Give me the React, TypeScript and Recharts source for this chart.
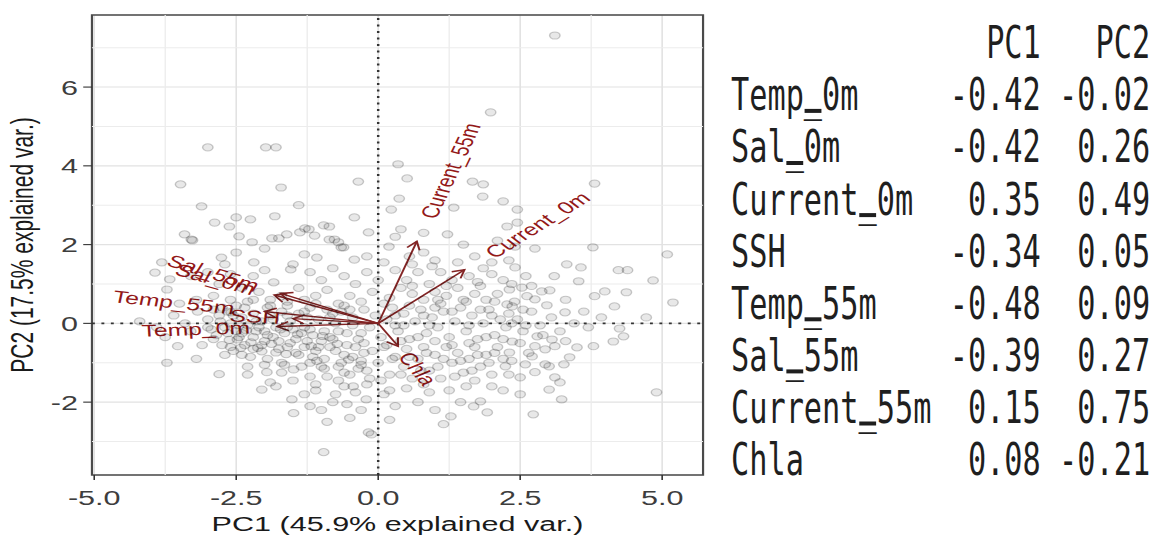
import React from 'react';
import { ScatterChart, Scatter, XAxis, YAxis, CartesianGrid, ReferenceLine, ReferenceArea } from 'recharts';

// axis setup
const pc1Ticks = [-5, -2.5, 0, 2.5, 5];
const pc2Ticks = [-2, 0, 2, 4, 6];
const pc1MinorBreaks = [-3.75, -1.25, 1.25, 3.75];
const pc2MinorBreaks = [-3, -1, 1, 3, 5, 7];
const pc1Domain: [number, number] = [-5.04, 5.72];
const pc2Domain: [number, number] = [-3.85, 7.83];

// loadings table
const variableNames = ['Temp_0m', 'Sal_0m', 'Current_0m', 'SSH', 'Temp_55m', 'Sal_55m', 'Current_55m', 'Chla'];
const loadingPC1 = [-0.42, -0.42, 0.35, -0.34, -0.48, -0.39, 0.15, 0.08];
const loadingPC2 = [-0.02, 0.26, 0.49, 0.05, 0.09, 0.27, 0.75, -0.21];

// arrow tips as drawn in the biplot (score units)
const arrowTipX = [-1.78, -1.83, 1.52, -1.5, -2.0, -1.72, 0.68, 0.35];
const arrowTipY = [-0.08, 0.72, 1.36, 0.12, 0.3, 0.76, 2.08, -0.58];

// PCA scores
const scores: [number, number][] = [
  [3.11, 7.31], [1.98, 5.36], [-3.0, 4.47], [-1.98, 4.47], [-1.8, 4.47], [0.35, 4.04], [-3.48, 3.53], [-1.71, 3.45],
  [-0.35, 3.6], [0.51, 3.68], [1.66, 3.6], [1.85, 3.53], [1.84, 3.22], [3.81, 3.55], [-3.11, 2.97], [-1.4, 3.0],
  [0.37, 3.17], [2.2, 3.1], [-2.88, 2.56], [-2.62, 2.46], [-2.5, 2.69], [-2.25, 2.64], [-1.82, 2.72], [-0.42, 2.69],
  [0.23, 2.89], [1.33, 2.94], [2.45, 2.89], [-0.86, 2.46], [2.27, 2.46], [2.45, 2.56], [0.4, 2.39], [-1.22, 2.39],
  [-0.96, 2.49], [-3.41, 2.26], [-3.27, 2.11], [-2.45, 2.21], [-2.22, 2.06], [-1.87, 2.16], [-1.75, 2.16], [-1.61, 2.26],
  [-1.38, 2.31], [-1.29, 2.41], [-1.12, 2.23], [-0.86, 2.13], [-0.7, 2.06], [-0.65, 1.93], [-0.17, 2.31], [0.19, 1.95],
  [1.22, 2.26], [2.41, 1.95], [3.78, 1.93], [5.09, 1.75], [3.32, 1.5], [-0.77, 2.13], [-0.61, 1.93], [-0.42, 1.62],
  [-1.08, 1.67], [-3.29, 2.13], [-2.76, 1.67], [-2.19, 1.55], [-3.81, 1.55], [2.76, 1.9], [3.57, 1.42], [4.23, 1.35],
  [4.39, 1.35], [2.41, 1.42], [0.8, 1.8], [1.0, 1.6], [0.55, 1.7], [1.7, 1.7], [2.0, 1.55], [-2.5, 1.8],
  [-2.0, 1.9], [-1.3, 1.75], [-0.2, 1.7], [0.1, 1.55], [1.4, 1.55], [0.3, 2.2], [0.8, 2.3], [1.5, 2.0], [2.1, 2.1],
  [4.84, 1.09], [3.53, 1.07], [3.99, 0.81], [3.81, 0.69], [4.37, 0.79], [3.02, 0.84], [2.88, 0.81], [2.62, 0.69],
  [2.76, 0.61], [2.53, 0.91], [2.31, 0.86], [-3.93, 1.29], [-3.67, 1.12], [-3.72, 0.86], [-1.54, 1.37], [-1.84, 1.04],
  [-1.71, 0.69], [-3.3, 1.2], [-3.0, 1.3], [-2.8, 1.0], [-2.6, 1.25], [-2.4, 0.9], [-2.2, 1.2], [-2.0, 1.35],
  [-1.2, 1.3], [-1.0, 1.1], [-0.8, 1.4], [-0.6, 1.2], [-0.4, 1.0], [-0.2, 1.3], [0.0, 1.1], [0.3, 1.35],
  [0.5, 1.1], [0.7, 1.3], [0.9, 1.0], [1.1, 1.3], [1.3, 1.1], [1.6, 1.2], [1.8, 0.95], [2.0, 1.25],
  [2.2, 1.1], [-1.4, 0.9], [-1.1, 0.7], [-0.9, 0.85], [-0.5, 0.7], [-0.1, 0.8], [0.2, 0.65], [0.4, 0.9],
  [0.6, 0.75], [0.8, 0.6], [1.0, 0.8], [1.2, 0.7], [1.4, 0.9], [1.5, 0.6], [1.7, 0.75], [1.9, 0.6],
  [2.1, 0.75], [-2.9, 0.7], [-2.6, 0.6], [-2.3, 0.55], [-2.1, 0.8], [-1.9, 0.6], [-1.6, 0.55], [-1.3, 0.6],
  [-3.2, 0.6], [-3.5, 0.5], [-0.7, 0.5], [-0.3, 0.55], [0.1, 0.5], [1.1, 0.5], [2.4, 0.55], [3.3, 0.6],
  [-1.5, 1.5], [-2.7, 1.5], [0.6, 1.5], [2.6, 1.2], [3.1, 1.2],
  [-2.59, 0.28], [-3.18, 0.3], [-2.94, -0.15], [-2.48, -0.41], [-2.24, -0.48], [3.93, 0.15], [4.72, 0.15], [4.25, -0.13],
  [4.16, 0.43], [5.19, 0.53], [3.62, 0.3], [3.29, 0.28], [2.97, 0.46], [2.36, 0.43], [2.27, 0.48], [-3.53, -0.58],
  [-3.0, 0.1], [-2.8, 0.2], [-2.7, -0.1], [-2.6, 0.0], [-2.5, -0.2], [-2.4, 0.15], [-2.3, -0.05], [-2.2, 0.25],
  [-2.15, -0.2], [-2.05, 0.05], [-1.95, -0.3], [-1.9, 0.2], [-1.8, -0.1], [-1.7, 0.3], [-1.65, -0.25], [-1.55, 0.05],
  [-1.45, -0.4], [-1.4, 0.25], [-1.3, -0.1], [-1.2, 0.4], [-1.15, -0.3], [-1.05, 0.1], [-0.95, -0.2], [-0.9, 0.35],
  [-0.8, -0.4], [-0.75, 0.0], [-0.65, 0.3], [-0.55, -0.25], [-0.45, 0.15], [-0.35, -0.4], [-0.25, 0.35], [-0.15, -0.1],
  [-0.05, 0.2], [0.05, -0.35], [0.15, 0.1], [0.25, 0.4], [0.35, -0.2], [0.45, 0.25], [0.55, -0.4], [0.65, 0.05],
  [0.75, 0.35], [0.85, -0.25], [0.95, 0.15], [1.05, -0.1], [1.15, 0.3], [1.25, -0.35], [1.35, 0.05], [1.45, 0.4],
  [1.55, -0.2], [1.65, 0.2], [1.75, -0.4], [1.85, 0.0], [1.95, 0.35], [2.05, -0.3], [2.15, 0.1], [2.25, -0.1],
  [2.45, 0.1], [2.55, -0.2], [2.7, 0.3], [2.85, -0.05], [3.05, 0.15], [3.2, -0.2], [3.45, 0.0], [3.7, -0.1],
  [-3.3, -0.2], [-3.6, 0.2], [-3.9, -0.1], [-2.9, -0.4], [-2.75, 0.4], [-2.35, 0.4], [-2.0, -0.45], [-1.75, -0.45],
  [-1.6, 0.45], [-1.0, -0.45], [-0.6, 0.45], [-2.45, -0.35], [-2.2, -0.35], [-1.85, 0.1], [-1.5, -0.15], [-1.25, 0.15],
  [-0.85, 0.15], [-2.65, 0.3], [-2.1, -0.1], [-1.35, -0.25], [-0.45, -0.05], [0.3, -0.05], [1.0, 0.4], [2.0, 0.2],
  [-4.2, 0.05], [-3.75, -0.35],
  [-2.05, -0.71], [-1.8, -0.74], [-1.96, -1.24], [-1.49, -1.17], [-2.8, -1.29], [-3.72, -1.0], [4.32, -0.33], [4.14, -0.46],
  [3.79, -0.58], [3.5, -0.61], [3.37, -0.86], [3.27, -1.04], [3.06, -0.41], [3.11, -0.58], [2.94, -0.66], [2.8, -0.33],
  [2.76, -0.58], [2.71, -0.84], [2.94, -1.04], [3.01, -1.09], [2.59, -1.04], [2.76, -1.24], [3.11, -1.37], [3.2, -1.5],
  [2.36, -0.46], [2.31, -0.74], [2.24, -1.09], [2.5, -1.37], [-2.6, -0.6], [-2.4, -0.8], [-2.2, -0.65], [-1.6, -0.6],
  [-1.4, -0.8], [-1.3, -0.6], [-1.2, -1.0], [-1.1, -0.7], [-0.95, -0.9], [-0.85, -0.6], [-0.7, -1.1], [-0.6, -0.8],
  [-0.5, -1.3], [-0.4, -0.6], [-0.3, -0.95], [-0.2, -1.2], [-0.1, -0.7], [0.0, -1.0], [0.1, -0.6], [0.2, -1.3],
  [0.3, -0.85], [0.45, -1.1], [0.5, -0.65], [0.6, -1.4], [0.7, -0.9], [0.8, -0.6], [0.9, -1.2], [1.0, -0.8],
  [1.1, -1.4], [1.2, -0.6], [1.3, -1.0], [1.4, -0.75], [1.5, -1.25], [1.6, -0.9], [1.7, -0.6], [1.8, -1.1],
  [1.9, -0.8], [2.0, -1.3], [2.1, -0.6], [2.2, -0.9], [-0.9, -1.35], [-1.7, -1.0], [-2.3, -1.1], [-1.0, -1.1],
  [0.05, -1.45], [1.7, -1.45], [-0.25, -0.5],
  [-1.52, -1.93], [-1.49, -2.28], [-2.05, -1.68], [-0.96, -3.27], [-0.44, -1.6], [-0.21, -1.93], [-0.17, -2.77], [2.73, -2.31],
  [4.9, -1.75], [1.15, -2.56], [1.28, -2.36], [1.68, -2.11], [1.8, -1.98], [1.92, -2.26], [1.45, -2.0], [-0.12, -2.82],
  [3.01, -1.68], [3.23, -1.93], [-1.1, -1.7], [-0.8, -2.0], [-0.6, -1.6], [-0.3, -2.2], [0.1, -1.8], [0.3, -2.1],
  [0.5, -1.65], [0.7, -2.0], [0.9, -1.75], [1.0, -2.2], [-1.2, -2.1], [-0.5, -2.4], [0.2, -2.45], [2.2, -1.7],
  [2.5, -1.8], [-1.8, -1.6], [-0.9, -2.5],
  // denser band left of the origin
  [-2.85, -0.3], [-2.75, -0.55], [-2.65, -0.25], [-2.55, -0.7], [-2.45, -0.05], [-2.35, -0.55], [-2.25, -0.85], [-2.15, 0.05],
  [-2.05, -0.55], [-1.95, -0.9], [-1.85, -0.35], [-1.75, -0.65], [-1.65, -1.05], [-1.55, -0.5], [-1.45, -0.75], [-1.35, -1.1],
  [-1.25, -0.45], [-1.15, -0.85], [-1.05, -0.6], [-0.95, -1.15], [-0.85, -0.35], [-0.75, -0.7], [-0.65, -1.0], [-0.55, -0.55],
  [-0.45, -0.85], [-0.35, -1.15], [-0.25, -0.75], [-0.15, -1.4], [-2.9, 0.35], [-2.5, 0.45], [-2.2, 0.6], [-1.9, 0.45],
  [-1.6, 0.2], [-1.3, 0.3], [-1.1, 0.5], [-0.8, 0.25], [-0.5, 0.35], [-2.7, -0.8], [-2.3, -1.3], [-1.9, -1.5],
  [-1.5, -1.45], [-1.1, -1.55], [-0.7, -1.45], [-0.4, -1.75], [-0.2, -1.55], [-0.75, -1.8], [-1.3, -1.8], [-0.55, -2.05],
  [-1.0, -2.2], [-3.1, -0.55], [-3.4, 0.0], [-3.2, -0.9], [-2.0, -1.05], [-1.7, -1.25], [-1.2, -1.35], [-0.6, -1.25],
  [-0.3, -1.05], [-2.4, -0.25], [-2.0, -0.2], [-1.6, -0.1], [-1.2, -0.15], [-0.7, -0.2], [-0.3, -0.25], [-1.95, 0.4],
  [-2.55, 0.2], [-3.0, -0.1], [-2.62, -0.42], [-2.32, -0.18], [-2.12, -0.62], [-1.88, -0.52], [-1.62, -0.78], [-1.42, -0.28],
  [-1.18, -0.58], [-0.98, -0.32], [-0.72, -0.52], [-0.52, -0.92], [-2.78, 0.05], [-2.42, -0.62], [-1.72, -0.15], [-1.08, -0.95],
  // right of the origin
  [0.15, -0.55], [0.25, -0.9], [0.4, -0.45], [0.55, -0.85], [0.7, -0.35], [0.85, -0.75], [1.0, -0.45], [1.15, -0.9],
  [1.3, -0.55], [1.45, -0.95], [1.6, -0.5], [1.75, -0.8], [1.9, -0.35], [2.05, -0.75], [2.2, -0.4], [2.35, -0.95],
  [2.5, -0.5], [2.65, -0.75], [0.3, 0.2], [0.55, 0.45], [0.8, 0.2], [1.05, 0.6], [1.3, 0.3], [1.55, 0.55],
  [1.8, 0.35], [2.05, 0.55], [2.3, 0.25], [2.55, 0.35], [0.4, -1.3], [0.75, -1.2], [1.05, -1.1], [1.35, -1.35],
  [1.65, -1.2], [1.95, -1.0], [2.3, -1.3], [0.2, -1.7], [0.8, -1.55], [1.25, -1.7], [1.55, -1.6], [2.0, -1.6],
  [0.6, 0.95], [1.2, 0.95], [1.75, 1.05], [2.35, 1.0], [2.7, 0.95], [0.95, 1.45], [1.85, 1.4], [2.3, 1.6],
  [0.45, -0.05], [0.9, -0.05], [1.6, -0.05], [2.35, 0.0], [2.9, -0.3], [3.3, -0.45], [2.6, -0.05],
];

const STRETCH_X = 1.455; // the plot panel in the source is stretched sideways
const TABLE_SQUEEZE = 0.688; // and the console table is squeezed
const FONT = '"Liberation Sans", Arial, sans-serif';
const MONO = '"DejaVu Sans Mono", monospace';
const LABEL_SIZE = 17;

const scoreData = scores.map(([x, y]) => ({ x, y }));

let measureCtx: CanvasRenderingContext2D | null = null;
const textWidth = (s: string) => {
  if (!measureCtx) measureCtx = document.createElement('canvas').getContext('2d');
  if (!measureCtx) return s.length * LABEL_SIZE * 0.58;
  measureCtx.font = `${LABEL_SIZE}px "Liberation Sans"`;
  return measureCtx.measureText(s).width;
};

const ScorePoint = (p: any) => (
  <circle cx={p.cx} cy={p.cy} r={3.6} fill="#000" fillOpacity={0.09} stroke="#000" strokeOpacity={0.2} strokeWidth={1} />
);

// arrow + rotated label, like ggbiplot
const makeArrow = (name: string, tx: number, ty: number) => (props: any) => {
  const { x1, y1, x2, y2 } = props;
  const a = Math.atan2(y2 - y1, x2 - x1);
  const head = 9;
  const spread = Math.PI / 6;
  const h1 = [x2 - head * Math.cos(a - spread), y2 - head * Math.sin(a - spread)];
  const h2 = [x2 - head * Math.cos(a + spread), y2 - head * Math.sin(a + spread)];
  const rot = -(Math.atan(ty / tx) * 180) / Math.PI;
  const gap = 0.25 * textWidth(name);
  return (
    <g>
      <line x1={x1} y1={y1} x2={x2} y2={y2} stroke="#832424" strokeWidth={1.4} />
      <polyline points={`${h1[0]},${h1[1]} ${x2},${y2} ${h2[0]},${h2[1]}`} fill="none" stroke="#832424" strokeWidth={1.4} />
      <text
        x={x2}
        y={y2}
        dx={tx > 0 ? gap : -gap}
        transform={`rotate(${rot} ${x2} ${y2})`}
        textAnchor={tx > 0 ? 'start' : 'end'}
        dominantBaseline="central"
        fontSize={LABEL_SIZE}
        fill="#931818"
        style={{ fontFamily: FONT }}
      >
        {name}
      </text>
    </g>
  );
};

// console-style loadings table (monospace columns)
const MONO_SIZE = 44;
const CHAR_W = MONO_SIZE * 0.602;
const ROW_H = 52.1;
const FIRST_BASELINE = 58.3;
const TABLE_INK = '#1f1f1f';

// the mono font drops its underscore glyph at this size, so the bar is
// painted under the text as well (text content keeps the "_")
const underscoreBars = (s: string, y: number) =>
  s.split('').map((c, k) =>
    c === '_' ? <rect key={k} x={k * CHAR_W + 1} y={y - 1.5} width={CHAR_W - 2} height={4} fill={TABLE_INK} /> : null
  );

export default function App() {
  return (
    <>
      <style>{'body{margin:0;overflow:hidden;background:#fff}'}</style>
      <div
        style={{
          position: 'absolute',
          left: 0,
          top: 0,
          width: 490,
          height: 535,
          transform: `scaleX(${STRETCH_X})`,
          transformOrigin: '0 0',
          fontFamily: FONT,
        }}
      >
        <ScatterChart width={490} height={535} margin={{ top: 15, right: 6.8, bottom: 0, left: 0 }}>
          <CartesianGrid stroke="#e2e2e2" strokeWidth={1.1} />
          {pc1MinorBreaks.map((v) => (
            <ReferenceLine key={`mx${v}`} x={v} stroke="#ececec" strokeWidth={0.9} />
          ))}
          {pc2MinorBreaks.map((v) => (
            <ReferenceLine key={`my${v}`} y={v} stroke="#ececec" strokeWidth={0.9} />
          ))}
          <XAxis
            type="number"
            dataKey="x"
            domain={pc1Domain}
            ticks={pc1Ticks}
            allowDataOverflow
            height={60}
            tickFormatter={(v: number) => v.toFixed(1)}
            tick={{ fontSize: 21, fill: '#3d3d3d' }}
            tickLine={{ stroke: '#333', strokeWidth: 1.1 }}
            tickSize={5}
            tickMargin={10}
            axisLine={false}
            label={{ value: 'PC1 (45.9% explained var.)', position: 'insideBottom', offset: 4, fontSize: 21, fill: '#1a1a1a' }}
          />
          <YAxis
            type="number"
            dataKey="y"
            domain={pc2Domain}
            ticks={pc2Ticks}
            allowDataOverflow
            width={63.2}
            tick={{ fontSize: 21, fill: '#3d3d3d' }}
            tickLine={{ stroke: '#333', strokeWidth: 1.1 }}
            tickSize={6}
            tickMargin={3.6}
            axisLine={false}
            label={{
              value: 'PC2 (17.5% explained var.)',
              angle: -90,
              position: 'insideLeft',
              offset: 15,
              fontSize: 21,
              fill: '#1a1a1a',
              style: { textAnchor: 'middle' },
            }}
          />
          <ReferenceLine x={0} stroke="#333" strokeWidth={1.7} strokeDasharray="2 4.5" />
          <ReferenceLine y={0} stroke="#333" strokeWidth={1.7} strokeDasharray="2 4.5" />
          <Scatter data={scoreData} shape={ScorePoint} isAnimationActive={false} />
          {variableNames.map((n, i) => (
            <ReferenceLine
              key={n}
              segment={[
                { x: 0, y: 0 },
                { x: arrowTipX[i], y: arrowTipY[i] },
              ]}
              ifOverflow="visible"
              shape={makeArrow(n, arrowTipX[i], arrowTipY[i])}
            />
          ))}
          <ReferenceArea
            x1={pc1Domain[0]}
            x2={pc1Domain[1]}
            y1={pc2Domain[0]}
            y2={pc2Domain[1]}
            fill="none"
            fillOpacity={0}
            stroke="#4a4a4a"
            strokeWidth={1.5}
            ifOverflow="visible"
          />
        </ScatterChart>
      </div>
      <svg width={456} height={535} style={{ position: 'absolute', left: 700, top: 0 }}>
        <g transform={`translate(31,0) scale(${TABLE_SQUEEZE},1)`} fontFamily={MONO} fontSize={MONO_SIZE} fill={TABLE_INK}>
          <text x={17 * CHAR_W} y={FIRST_BASELINE} textAnchor="end">PC1</text>
          <text x={23 * CHAR_W} y={FIRST_BASELINE} textAnchor="end">PC2</text>
          {variableNames.map((n, i) => {
            const y = FIRST_BASELINE + (i + 1) * ROW_H;
            return (
              <g key={n}>
                {underscoreBars(n, y)}
                <text x={0} y={y}>{n}</text>
                <text x={17 * CHAR_W} y={y} textAnchor="end">{loadingPC1[i].toFixed(2)}</text>
                <text x={23 * CHAR_W} y={y} textAnchor="end">{loadingPC2[i].toFixed(2)}</text>
              </g>
            );
          })}
        </g>
      </svg>
    </>
  );
}
